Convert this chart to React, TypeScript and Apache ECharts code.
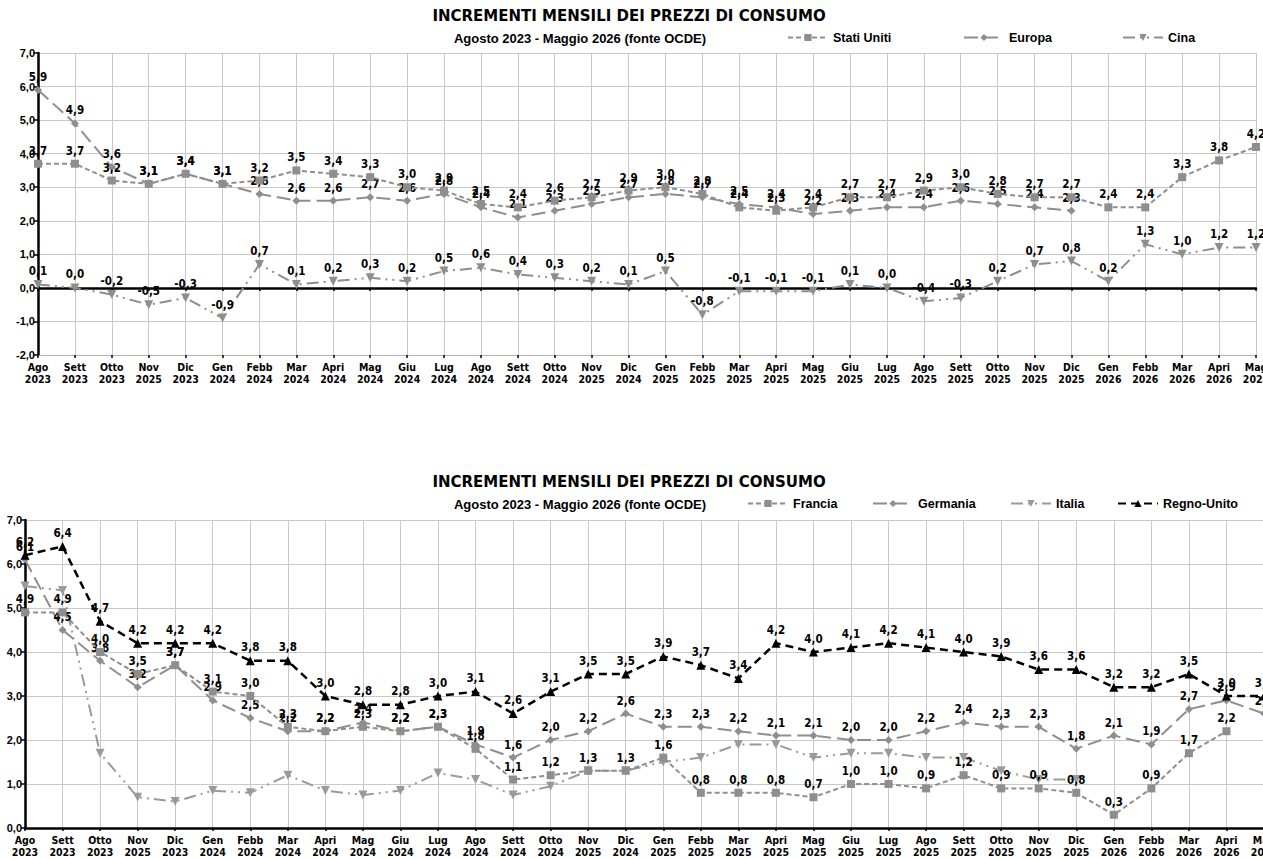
import React, { useEffect, useRef } from "react";
import * as echarts from "echarts";

const months = [
  "Ago\n2023", "Sett\n2023", "Otto\n2023", "Nov\n2025", "Dic\n2023", "Gen\n2024", "Febb\n2024", "Mar\n2024",
  "Apri\n2024", "Mag\n2024", "Giu\n2024", "Lug\n2024", "Ago\n2024", "Sett\n2024", "Otto\n2024", "Nov\n2025",
  "Dic\n2024", "Gen\n2025", "Febb\n2025", "Mar\n2025", "Apri\n2025", "Mag\n2025", "Giu\n2025", "Lug\n2025",
  "Ago\n2025", "Sett\n2025", "Otto\n2025", "Nov\n2025", "Dic\n2025", "Gen\n2026", "Febb\n2026", "Mar\n2026",
  "Apri\n2026", "Mag\n2026",
];

const statiUniti = [3.7, 3.7, 3.2, 3.1, 3.4, 3.1, 3.2, 3.5, 3.4, 3.3, 3.0, 2.9, 2.5, 2.4, 2.6, 2.7, 2.9, 3.0, 2.8, 2.4, 2.3, 2.4, 2.7, 2.7, 2.9, 3.0, 2.8, 2.7, 2.7, 2.4, 2.4, 3.3, 3.8, 4.2];
const europa = [5.9, 4.9, 3.6, 3.1, 3.4, 3.1, 2.8, 2.6, 2.6, 2.7, 2.6, 2.8, 2.4, 2.1, 2.3, 2.5, 2.7, 2.8, 2.7, 2.5, 2.4, 2.2, 2.3, 2.4, 2.4, 2.6, 2.5, 2.4, 2.3, null, null, null, null, null];
const cina = [0.1, 0.0, -0.2, -0.5, -0.3, -0.9, 0.7, 0.1, 0.2, 0.3, 0.2, 0.5, 0.6, 0.4, 0.3, 0.2, 0.1, 0.5, -0.8, -0.1, -0.1, -0.1, 0.1, 0.0, -0.4, -0.3, 0.2, 0.7, 0.8, 0.2, 1.3, 1.0, 1.2, 1.2];

const francia = [4.9, 4.9, 4.0, 3.5, 3.7, 3.1, 3.0, 2.3, 2.2, 2.3, 2.2, 2.3, 1.8, 1.1, 1.2, 1.3, 1.3, 1.6, 0.8, 0.8, 0.8, 0.7, 1.0, 1.0, 0.9, 1.2, 0.9, 0.9, 0.8, 0.3, 0.9, 1.7, 2.2, null];
const germania = [6.1, 4.5, 3.8, 3.2, 3.7, 2.9, 2.5, 2.2, 2.2, 2.4, 2.2, 2.3, 1.9, 1.6, 2.0, 2.2, 2.6, 2.3, 2.3, 2.2, 2.1, 2.1, 2.0, 2.0, 2.2, 2.4, 2.3, 2.3, 1.8, 2.1, 1.9, 2.7, 2.9, 2.6];
const italia = [5.5, 5.4, 1.7, 0.7, 0.6, 0.85, 0.8, 1.2, 0.85, 0.75, 0.85, 1.25, 1.1, 0.75, 0.95, 1.3, 1.3, 1.5, 1.6, 1.9, 1.9, 1.6, 1.7, 1.7, 1.6, 1.6, 1.3, 1.1, 1.1, null, null, null, null, null];
const regnoUnito = [6.2, 6.4, 4.7, 4.2, 4.2, 4.2, 3.8, 3.8, 3.0, 2.8, 2.8, 3.0, 3.1, 2.6, 3.1, 3.5, 3.5, 3.9, 3.7, 3.4, 4.2, 4.0, 4.1, 4.2, 4.1, 4.0, 3.9, 3.6, 3.6, 3.2, 3.2, 3.5, 3.0, 3.0];

const TITLE = "INCREMENTI MENSILI DEI PREZZI DI CONSUMO";
const SUBTITLE = "Agosto 2023 - Maggio 2026 (fonte OCDE)";

const NARROW = "'Liberation Sans Narrow', 'Arial Narrow', 'DejaVu Sans Condensed', 'Liberation Sans', sans-serif";
const SANS = "'Liberation Sans', Arial, sans-serif";
const WIDE = "'DejaVu Sans', 'Liberation Sans', sans-serif";
const GRAY = "#8e8e8e";
const GRID = "#c9c9c9";

const fmt = (v: number) => v.toFixed(1).replace(".", ",");

function mkSeries(name: string, data: (number | null)[], opt: any) {
  return {
    type: "line",
    name,
    data,
    xAxisIndex: opt.x,
    yAxisIndex: opt.y,
    symbol: opt.symbol,
    symbolSize: opt.size,
    symbolRotate: opt.rotate || 0,
    connectNulls: false,
    z: opt.z || 2,
    itemStyle: { color: opt.color },
    lineStyle: { color: opt.color, width: opt.width || 2, type: opt.dash },
    label: {
      show: opt.label !== false,
      position: "top",
      distance: 3,
      color: "#000",
      fontSize: 11.5,
      fontWeight: "bold",
      fontFamily: NARROW,
      formatter: (p: any) => (p.value == null ? "" : fmt(p.value)),
    },
  };
}

function xAxisBase(grid: number, extra: any) {
  return {
    type: "category",
    gridIndex: grid,
    data: months,
    boundaryGap: false,
    axisLabel: {
      interval: 0,
      color: "#000",
      fontSize: 10.5,
      fontWeight: "bold",
      fontFamily: NARROW,
      lineHeight: 12,
      margin: 6,
    },
    axisTick: { show: true, inside: false, length: 3, interval: 0, lineStyle: { color: "#000", width: 1.5 } },
    splitLine: { show: true, interval: 0, lineStyle: { color: GRID, width: 1 } },
    ...extra,
  };
}

function yAxisBase(grid: number, min: number, max: number) {
  return {
    type: "value",
    gridIndex: grid,
    min,
    max,
    interval: 1,
    axisLine: { show: true, onZero: false, lineStyle: { color: "#000", width: 2.5 } },
    axisTick: { show: true, length: 4, lineStyle: { color: "#000", width: 1.5 } },
    axisLabel: {
      color: "#000",
      fontSize: 11,
      fontWeight: "bold",
      fontFamily: SANS,
      margin: 3,
      formatter: (v: number) => fmt(v),
    },
    splitLine: { show: true, lineStyle: { color: GRID, width: 1 } },
  };
}

function legendAt(name: string, left: number, top: number) {
  return {
    data: [name],
    left,
    top,
    padding: 0,
    itemWidth: 40,
    itemHeight: 9,
    textStyle: { color: "#000", fontSize: 12.5, fontWeight: "bold", fontFamily: SANS },
    selectedMode: false,
  };
}

function titleText(y: number) {
  return [
    {
      type: "text",
      x: 629,
      y,
      style: {
        text: TITLE,
        align: "center",
        verticalAlign: "middle",
        fontSize: 15,
        fontWeight: "bold",
        fontFamily: WIDE,
        fill: "#000",
      },
    },
    {
      type: "text",
      x: 580,
      y: y + 22,
      style: {
        text: SUBTITLE,
        align: "center",
        verticalAlign: "middle",
        fontSize: 13,
        fontWeight: "bold",
        fontFamily: SANS,
        fill: "#000",
      },
    },
  ];
}

export default function App() {
  const ref = useRef<HTMLDivElement>(null);
  useEffect(() => {
    if (!ref.current) return;
    const chart = echarts.init(ref.current, null, { renderer: "svg" });
    const option: any = {
      animation: false,
      backgroundColor: "#fff",
      graphic: [...titleText(16), ...titleText(482)],
      legend: [
        legendAt("Stati Uniti", 787, 31),
        legendAt("Europa", 963, 31),
        legendAt("Cina", 1122, 31),
        legendAt("Francia", 747, 497),
        legendAt("Germania", 872, 497),
        legendAt("Italia", 1010, 497),
        legendAt("Regno-Unito", 1117, 497),
      ],
      grid: [
        { left: 38, top: 53, width: 1218, height: 302, outerBoundsMode: "none", containLabel: false },
        { left: 25, top: 520, width: 1239, height: 308, outerBoundsMode: "none", containLabel: false },
      ],
      xAxis: [
        xAxisBase(0, {
          position: "bottom",
          axisLine: { show: true, onZero: false, lineStyle: { color: "#b5b5b5", width: 1 } },
        }),
        xAxisBase(0, {
          position: "bottom",
          axisLine: { show: true, onZero: true, lineStyle: { color: "#000", width: 2.5 } },
          axisLabel: { show: false },
          splitLine: { show: false },
        }),
        xAxisBase(1, {
          position: "bottom",
          axisLine: { show: true, onZero: false, lineStyle: { color: "#000", width: 2.5 } },
        }),
      ],
      yAxis: [yAxisBase(0, -2, 7), yAxisBase(1, 0, 7)],
      series: [
        mkSeries("Stati Uniti", statiUniti, { x: 0, y: 0, symbol: "rect", size: 8, color: GRAY, dash: [5, 3], z: 4 }),
        mkSeries("Europa", europa, { x: 0, y: 0, symbol: "diamond", size: 8, color: GRAY, dash: [14, 6], z: 3 }),
        mkSeries("Cina", cina, { x: 0, y: 0, symbol: "triangle", rotate: 180, size: 9, color: GRAY, dash: [12, 5, 2, 5, 2, 5] }),
        mkSeries("Francia", francia, { x: 2, y: 1, symbol: "rect", size: 8, color: GRAY, dash: [5, 3], z: 4 }),
        mkSeries("Germania", germania, { x: 2, y: 1, symbol: "diamond", size: 8, color: GRAY, dash: [14, 6], z: 3 }),
        mkSeries("Italia", italia, { x: 2, y: 1, symbol: "triangle", rotate: 180, size: 9, color: "#9a9a9a", dash: [12, 5, 2, 5, 2, 5], label: false }),
        mkSeries("Regno-Unito", regnoUnito, { x: 2, y: 1, symbol: "triangle", size: 9, color: "#000", dash: [8, 5], width: 2.5, z: 5 }),
      ],
    };
    chart.setOption(option);
    return () => chart.dispose();
  }, []);
  return (
    <div
      ref={ref}
      style={{ position: "absolute", left: 0, top: 0, width: 1263, height: 859, background: "#fff" }}
    />
  );
}
